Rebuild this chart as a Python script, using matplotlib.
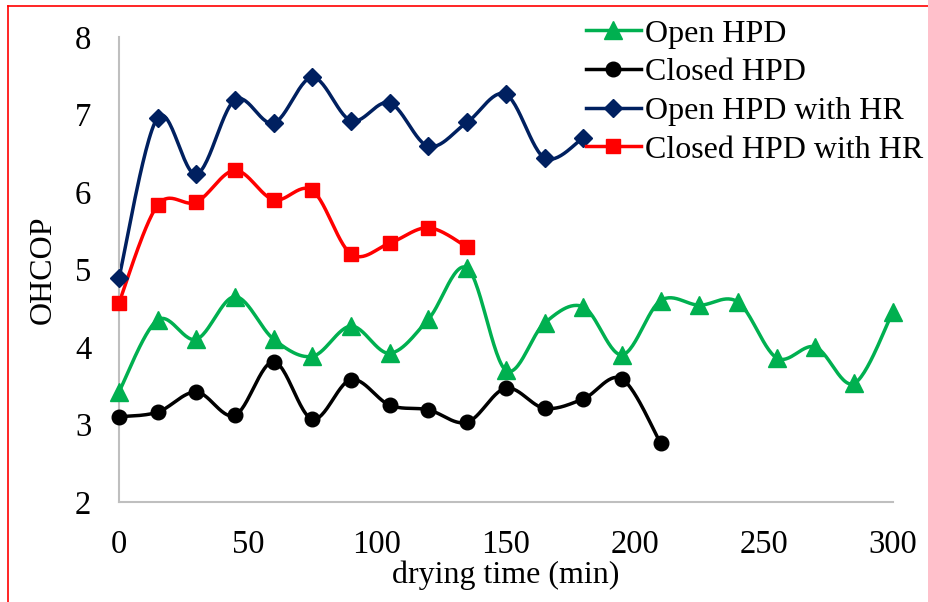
import matplotlib
matplotlib.use("Agg")
import matplotlib.pyplot as plt
from matplotlib.lines import Line2D
import numpy as np

plt.rcParams['font.family'] = ['Liberation Serif', 'DejaVu Serif']

# drying time (min)
t_open = [0, 15, 30, 45, 60, 75, 90, 105, 120, 135, 150, 165, 180, 195, 210, 225, 240, 255, 270, 285, 300]
t_closed = [0, 15, 30, 45, 60, 75, 90, 105, 120, 135, 150, 165, 180, 195, 210]
t_open_hr = [0, 15, 30, 45, 60, 75, 90, 105, 120, 135, 150, 165, 180]
t_closed_hr = [0, 15, 30, 45, 60, 75, 90, 105, 120, 135]

open_hpd = [3.42, 4.35, 4.10, 4.65, 4.10, 3.88, 4.27, 3.92, 4.36, 5.02, 3.70, 4.31, 4.52, 3.90, 4.60, 4.54, 4.58, 3.86, 4.00, 3.53, 4.45]
closed_hpd = [3.10, 3.16, 3.42, 3.12, 3.81, 3.07, 3.58, 3.25, 3.19, 3.03, 3.47, 3.21, 3.33, 3.59, 2.76]
open_hpd_hr = [4.89, 6.96, 6.23, 7.19, 6.89, 7.48, 6.92, 7.15, 6.59, 6.90, 7.26, 6.44, 6.70]
closed_hpd_hr = [4.57, 5.83, 5.87, 6.28, 5.90, 6.02, 5.20, 5.34, 5.54, 5.29]

labels = ["Open HPD", "Closed HPD", "Open HPD with HR", "Closed HPD with HR"]
colors = ["#00B050", "#000000", "#002060", "#FF0000"]
markers = ["^", "o", "D", "s"]
msizes = [13, 10.5, 9.5, 10]


def smooth(x, y, n=30):
    # Excel-style smoothed line (cubic Bezier, Catmull-Rom control points)
    x = np.asarray(x, float)
    y = np.asarray(y, float)
    px = np.concatenate([[x[0]], x, [x[-1]]])
    py = np.concatenate([[y[0]], y, [y[-1]]])
    s = np.linspace(0, 1, n)
    xs, ys = [], []
    for i in range(1, len(px) - 2):
        p0 = np.array([px[i], py[i]])
        p3 = np.array([px[i + 1], py[i + 1]])
        p1 = p0 + (np.array([px[i + 1], py[i + 1]]) - np.array([px[i - 1], py[i - 1]])) / 6
        p2 = p3 - (np.array([px[i + 2], py[i + 2]]) - np.array([px[i], py[i]])) / 6
        b = ((1 - s) ** 3)[:, None] * p0 + (3 * (1 - s) ** 2 * s)[:, None] * p1 \
            + (3 * (1 - s) * s ** 2)[:, None] * p2 + (s ** 3)[:, None] * p3
        xs.append(b[:, 0])
        ys.append(b[:, 1])
    return np.concatenate(xs), np.concatenate(ys)


fig = plt.figure(figsize=(9.29, 6.02), dpi=100)
ax = fig.add_axes([0.128, 0.166, 0.833, 0.7725])

series = [(t_open, open_hpd), (t_closed, closed_hpd), (t_open_hr, open_hpd_hr), (t_closed_hr, closed_hpd_hr)]
handles = []
for (t, v), lab, c, m, ms in zip(series, labels, colors, markers, msizes):
    sx, sy = smooth(t, v)
    ax.plot(sx, sy, color=c, lw=2.5, zorder=2, clip_on=False)
    ax.plot(t, v, ls="none", marker=m, color=c, ms=ms, zorder=3, clip_on=False)
    handles.append(Line2D([], [], color=c, lw=2.5, marker=m, ms=ms))

ax.set_xlim(0, 300)
ax.set_ylim(2, 8)
ax.set_xticks([0, 50, 100, 150, 200, 250, 300])
ax.set_yticks([2, 3, 4, 5, 6, 7, 8])
for s in ["top", "right"]:
    ax.spines[s].set_visible(False)
for s in ["left", "bottom"]:
    ax.spines[s].set_color("#BFBFBF")
    ax.spines[s].set_linewidth(1.5)
ax.tick_params(length=0, labelsize=23.5)
ax.tick_params(axis="y", pad=20)
ax.tick_params(axis="x", pad=20)
ax.set_xlabel("drying time (min)", fontsize=23, labelpad=0)
ax.set_ylabel("OHCOP", fontsize=23, labelpad=12)

fig.legend(handles, labels, loc="upper left", bbox_to_anchor=(0.631, 0.968),
           frameon=False, fontsize=23, handlelength=1.7, handletextpad=0.15,
           labelspacing=0.29, borderaxespad=0, borderpad=0)

# red frame edges
fig.add_artist(Line2D([0.009, 1.0], [0.99, 0.99], color="red", lw=1.2, transform=fig.transFigure))
fig.add_artist(Line2D([0.009, 0.009], [0.0, 0.99], color="red", lw=1.2, transform=fig.transFigure))

fig.savefig("out.png", dpi=100)
